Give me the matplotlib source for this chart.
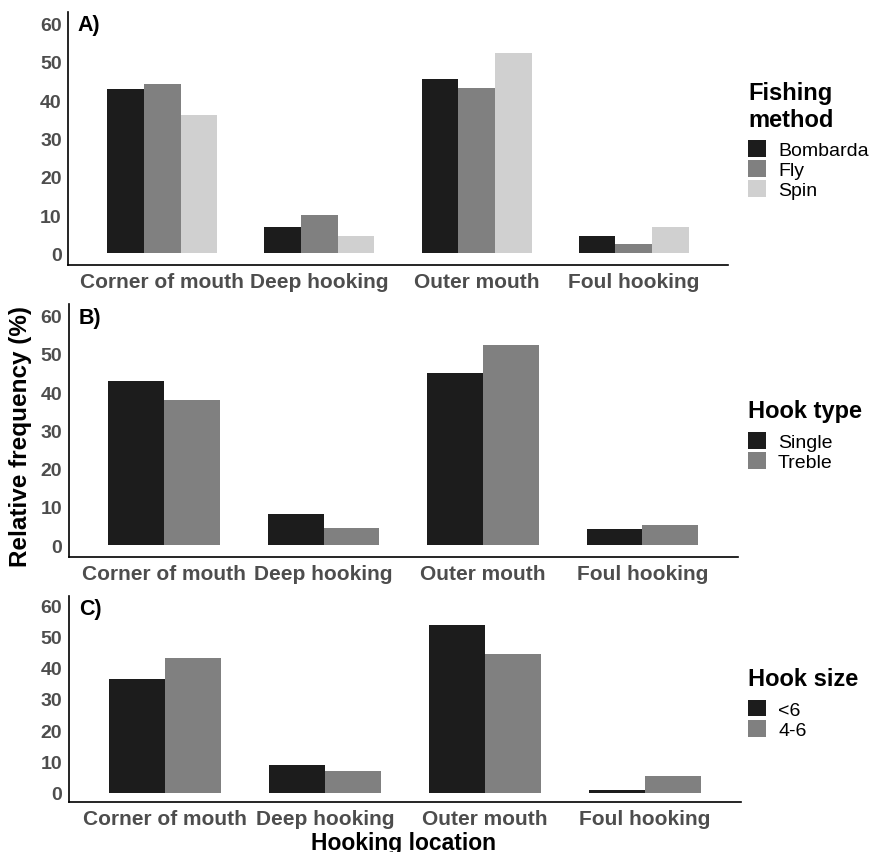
import numpy as np
import matplotlib.pyplot as plt
from matplotlib.patches import Patch

plt.rcParams['font.family'] = ['Liberation Sans', 'DejaVu Sans']

LOCATIONS = ['Corner of mouth', 'Deep hooking', 'Outer mouth', 'Foul hooking']

# panel A - fishing method
METHOD_NAMES = ['Bombarda', 'Fly', 'Spin']
METHOD_VALS = [
    [43.0, 6.8, 45.5, 4.5],
    [44.1, 10.0, 43.2, 2.4],
    [36.1, 4.5, 52.4, 6.8],
]

# panel B - hook type
TYPE_NAMES = ['Single', 'Treble']
TYPE_VALS = [
    [42.9, 8.2, 45.1, 4.2],
    [38.0, 4.4, 52.3, 5.4],
]

# panel C - hook size
SIZE_NAMES = ['<6', '4-6']
SIZE_VALS = [
    [36.4, 8.9, 53.5, 0.9],
    [43.1, 7.0, 44.5, 5.3],
]

COLS3 = ['#1c1c1c', '#808080', '#d0d0d0']
COLS2 = ['#1c1c1c', '#808080']
TICK_COL = '#4d4d4d'

fig = plt.figure(figsize=(8.74, 8.53), dpi=100)

panels = [
    ('A)', 'Fishing\nmethod', METHOD_NAMES, METHOD_VALS, COLS3,
     [0.0778, 0.6882, 0.833 - 0.0778, 0.9848 - 0.6882], 0.9039),
    ('B)', 'Hook type', TYPE_NAMES, TYPE_VALS, COLS2,
     [0.0785, 0.3462, 0.8444 - 0.0785, 0.6424 - 0.3462], 0.531),
    ('C)', 'Hook size', SIZE_NAMES, SIZE_VALS, COLS2,
     [0.0785, 0.0583, 0.848 - 0.0785, 0.3005 - 0.0583], 0.2169),
]

x = np.arange(len(LOCATIONS))
for tag, ltitle, names, vals, cols, rect, leg_top in panels:
    ax = fig.add_axes(rect)
    n = len(names)
    w = 0.7 / n
    for k in range(n):
        off = (k - (n - 1) / 2) * w
        ax.bar(x + off, vals[k], width=w, color=cols[k], edgecolor='none')
    ax.set_xlim(-0.6, 3.6)
    ax.set_ylim(-3, 63)
    ax.set_yticks([0, 10, 20, 30, 40, 50, 60])
    ax.set_xticks(x)
    ax.set_xticklabels(LOCATIONS)
    ax.tick_params(axis='x', length=0, pad=5, labelsize=15, labelcolor=TICK_COL)
    ax.tick_params(axis='y', length=0, pad=4.5, labelsize=14, labelcolor=TICK_COL)
    for lab in ax.get_xticklabels() + ax.get_yticklabels():
        lab.set_fontweight('bold')
    for s in ['top', 'right']:
        ax.spines[s].set_visible(False)
    for s in ['left', 'bottom']:
        ax.spines[s].set_linewidth(1.2)
        ax.spines[s].set_color('black')
    ax.text(0.015, 0.99, tag, transform=ax.transAxes, ha='left', va='top',
            fontsize=15.5, fontweight='bold')

    handles = [Patch(facecolor=cols[k], edgecolor='none', label=names[k]) for k in range(n)]
    leg = fig.legend(handles=handles, title=ltitle, loc='upper left',
                     bbox_to_anchor=(0.8558, leg_top), bbox_transform=fig.transFigure,
                     frameon=False, fontsize=14, handlelength=0.95, handleheight=0.95,
                     labelspacing=0.05, borderpad=0, borderaxespad=0, handletextpad=0.6,
                     title_fontproperties={'weight': 'bold', 'size': 17},
                     alignment='left')
    leg._legend_box.sep = 7

fig.text(0.023, 0.4883, 'Relative frequency (%)', rotation=90, ha='center', va='center',
         fontsize=17.5, fontweight='bold')
fig.text(0.462, 0.0117, 'Hooking location', ha='center', va='center',
         fontsize=16.5, fontweight='bold')

fig.savefig('out.png', dpi=100)
